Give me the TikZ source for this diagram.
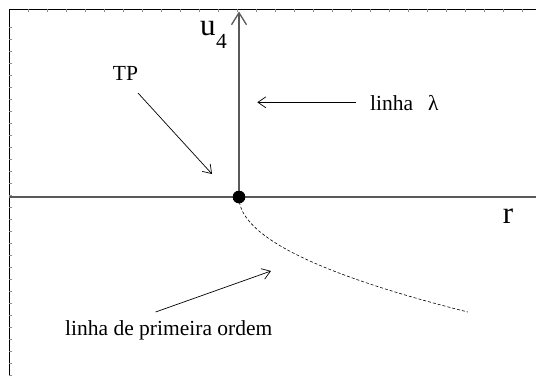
\documentclass[tikz,border=0pt]{standalone}
\usepackage{fontspec}
\setmainfont{Liberation Serif}
\usetikzlibrary{arrows.meta}
\begin{document}
\begin{tikzpicture}[x=1pt,y=-1pt,
  lbl/.style={inner sep=0pt,anchor=base west,font=\fontsize{21.5}{25}\selectfont},
  axlbl/.style={inner sep=0pt,anchor=base west,font=\fontsize{31}{36}\selectfont},
  axis/.style={draw=black!65,line width=1.3pt},
  pointer/.style={draw=black,line width=0.7pt,-{Straight Barb[length=8pt,width=11pt]}},
  tick/.style={draw=black!45,line width=0.5pt}]
\useasboundingbox (0,0) rectangle (536,376);
\clip (0,0) rectangle (536,376);
\fill[white] (0,0) rectangle (536,376);
% frame
\draw[black,line width=1.2pt] (9.3,376) -- (9.3,9.3) -- (536,9.3);
\foreach \y in {27,39,...,376} \draw[tick] (9.3,\y) -- (11.5,\y);
\foreach \x in {28,47,...,536} \draw[tick] (\x,9.3) -- (\x,11.5);
% axes
\coordinate (left) at (9.3,197);
\coordinate (right) at (548,197);
\coordinate (top) at (239,11.5);
\node[circle,fill=black,inner sep=0pt,minimum size=12.5pt] (O) at (239,197) {};
\draw[axis] (left) -- (right);
\draw[axis,-{Straight Barb[length=12pt,width=15pt]}] (O.center) -- (top);
\draw[axis,->] (O.center) -- (right);
\fill[black] (O) circle (6.25pt);
% dashed first order line
\draw[black,line width=0.6pt,dash pattern=on 3pt off 2pt]
  plot[domain=0:115,samples=60,smooth] ({239+0.0173*\x*\x},{197+\x});
% labels
\node[axlbl] (u) at (200,35) {u};
\node[lbl] (four) at (216,48) {4};
\node[axlbl] (r) at (502.7,223) {r};
\node[lbl] (tp) at (112.7,80) {TP};
\node[lbl] (lam) at (370,110) {linha};
\node[lbl] (lamsym) at (428,110) {λ};
\node[lbl] (fo) at (65,335) {linha de primeira ordem};
% pointers
\coordinate (tpA) at (138,93);
\coordinate (tpB) at (212,174);
\coordinate (lA) at (355.6,102.3);
\coordinate (lB) at (257.3,102.3);
\coordinate (fA) at (155.6,312);
\coordinate (fB) at (271,271);
\draw[pointer] (tpA) -- (tpB);
\draw[pointer] (lA) -- (lB);
\draw[pointer] (fA) -- (fB);
\end{tikzpicture}
\end{document}
